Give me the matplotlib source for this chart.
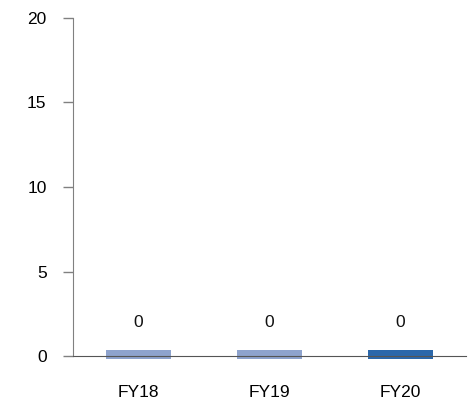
import matplotlib
matplotlib.use("Agg")
import matplotlib.pyplot as plt

categories = ["FY18", "FY19", "FY20"]
values = [0, 0, 0]
colors = ["#8ea3cd", "#8ea3cd", "#2b67aa"]

plt.rcParams['font.family'] = ['Liberation Sans', 'DejaVu Sans']

fig = plt.figure(figsize=(4.73, 4.03), dpi=100)
ax = fig.add_axes([73 / 473, 47 / 403, 393 / 473, 338 / 403])

x = range(len(categories))
# zero values still get a thin visible stub, as in the original
stub = 0.53
ax.bar(x, [v + stub for v in values], bottom=-0.18, width=0.5, color=colors, zorder=1)
for i, v in enumerate(values):
    ax.text(i, v + 2.0, str(v), ha='center', va='center', fontsize=12.5, color='#111111')

ax.set_xlim(-0.5, 2.5)
ax.set_ylim(0, 20)
ax.set_yticks([0, 5, 10, 15, 20])
ax.set_xticks(list(x))
ax.set_xticklabels(categories)
ax.tick_params(axis='x', length=0, pad=21, labelsize=12.5)
ax.tick_params(axis='y', length=7, width=1, color='#808080', pad=12, labelsize=12.5, direction='out')

ax.spines['top'].set_visible(False)
ax.spines['right'].set_visible(False)
ax.spines['left'].set_color('#808080')
ax.spines['bottom'].set_color('#555555')
ax.spines['bottom'].set_zorder(3)
for p in ax.patches:
    p.set_clip_on(False)

fig.savefig('out.png', dpi=100)
